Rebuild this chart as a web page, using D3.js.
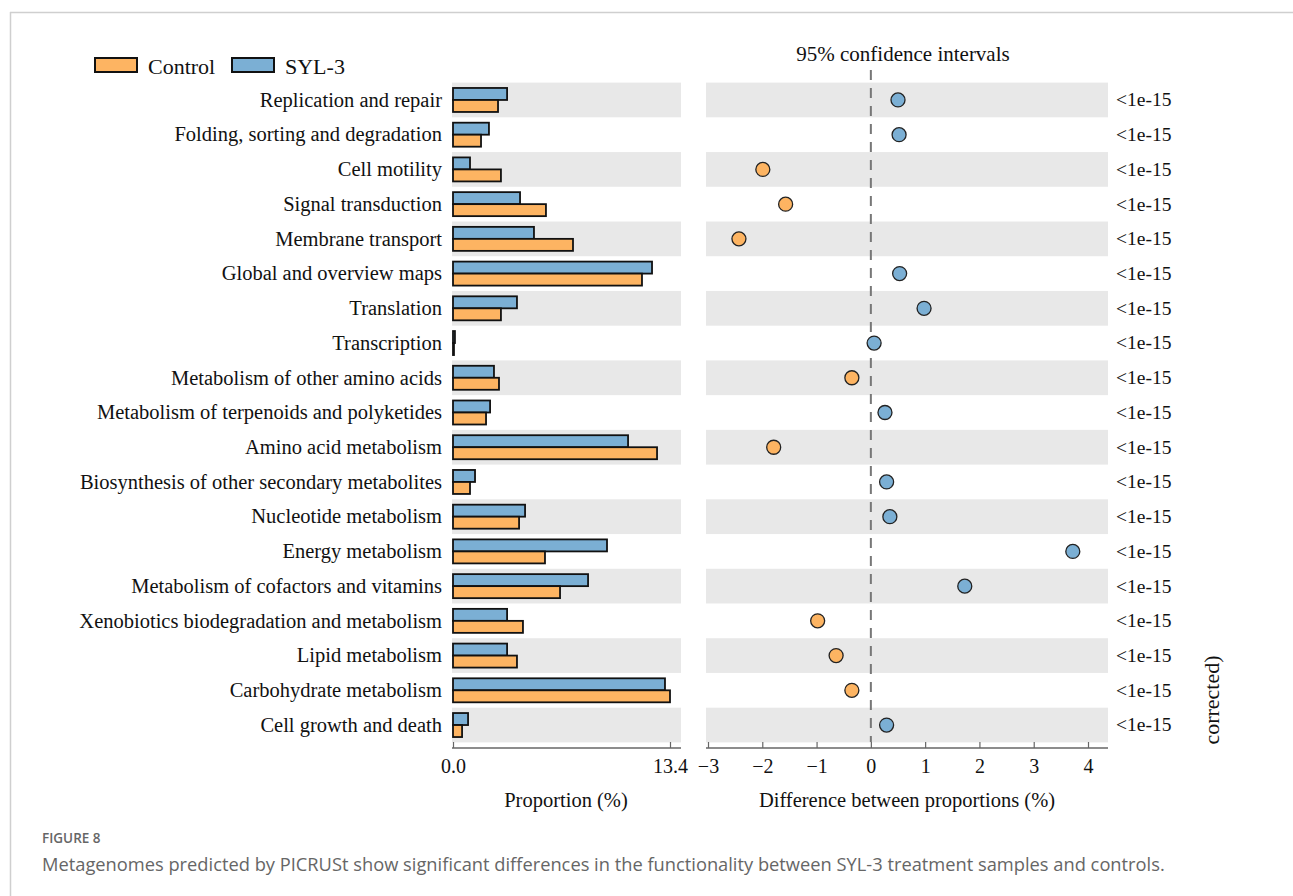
<!DOCTYPE html>
<html>
<head>
<meta charset="utf-8">
<script src="https://cdn.jsdelivr.net/npm/d3@7"></script>
<style>
  html, body { margin: 0; padding: 0; background: #fff; }
  svg { display: block; }
</style>
</head>
<body>
<svg id="chart" width="1293" height="896"></svg>
<script>
// KEGG level-2 pathways, top to bottom
const categories = [
  "Replication and repair",
  "Folding, sorting and degradation",
  "Cell motility",
  "Signal transduction",
  "Membrane transport",
  "Global and overview maps",
  "Translation",
  "Transcription",
  "Metabolism of other amino acids",
  "Metabolism of terpenoids and polyketides",
  "Amino acid metabolism",
  "Biosynthesis of other secondary metabolites",
  "Nucleotide metabolism",
  "Energy metabolism",
  "Metabolism of cofactors and vitamins",
  "Xenobiotics biodegradation and metabolism",
  "Lipid metabolism",
  "Carbohydrate metabolism",
  "Cell growth and death"
];

// mean proportions (%)
const syl3Values = [3.34, 2.22, 1.05, 4.14, 5.00, 12.29, 3.95, 0.12, 2.53, 2.29,
                    10.81, 1.36, 4.45, 9.51, 8.34, 3.34, 3.34, 13.09, 0.93];
const controlValues = [2.78, 1.73, 2.96, 5.74, 7.41, 11.67, 2.96, 0.06, 2.84, 2.04,
                       12.60, 1.05, 4.08, 5.68, 6.61, 4.32, 3.95, 13.40, 0.56];

// difference between proportions (SYL-3 minus Control, %)
const differences = [0.50, 0.52, -1.99, -1.57, -2.43, 0.53, 0.98, 0.06, -0.35, 0.26,
                     -1.79, 0.29, 0.35, 3.72, 1.73, -0.98, -0.64, -0.35, 0.29];

const pValues = categories.map(() => "<1e-15");

const proportionTicks = [0, 13.4];
const differenceTicks = [-3, -2, -1, 0, 1, 2, 3, 4];

const seriesNames = ["Control", "SYL-3"];
const colors = { "Control": "#FDB462", "SYL-3": "#7BAFD4" };

const svg = d3.select("#chart");
const serif = "'Liberation Serif', 'Times New Roman', serif";
const fs = 20.5;

// figure frame
svg.append("line").attr("x1", 10.5).attr("x2", 10.5).attr("y1", 12).attr("y2", 896)
  .attr("stroke", "#cfcfcf").attr("stroke-width", 1.5);
svg.append("line").attr("x1", 10).attr("x2", 1293).attr("y1", 12.5).attr("y2", 12.5)
  .attr("stroke", "#cfcfcf").attr("stroke-width", 1.5);

// shared row scale
const y = d3.scaleBand().domain(categories).range([82.6, 742.4]).padding(0);

// ---------- left panel: proportions ----------
const xProp = d3.scaleLinear().domain([0, 13.4]).range([453, 670]);
const leftPanel = svg.append("g");

leftPanel.selectAll("rect.band")
  .data(categories.filter((d, i) => i % 2 === 0))
  .join("rect")
  .attr("class", "band")
  .attr("x", 452).attr("width", 681 - 452)
  .attr("y", d => y(d)).attr("height", y.bandwidth())
  .attr("fill", "#e8e8e8");

const barH = 12;
const rows = categories.map((c, i) => ({ c, syl: syl3Values[i], ctl: controlValues[i], diff: differences[i], p: pValues[i] }));

leftPanel.selectAll("rect.syl")
  .data(rows).join("rect")
  .attr("class", "syl")
  .attr("x", xProp(0))
  .attr("y", d => y(d.c) + y.bandwidth() / 2 - barH)
  .attr("width", d => xProp(d.syl) - xProp(0))
  .attr("height", barH)
  .attr("fill", colors["SYL-3"]).attr("stroke", "#111").attr("stroke-width", 1.8);

leftPanel.selectAll("rect.ctl")
  .data(rows).join("rect")
  .attr("class", "ctl")
  .attr("x", xProp(0))
  .attr("y", d => y(d.c) + y.bandwidth() / 2)
  .attr("width", d => xProp(d.ctl) - xProp(0))
  .attr("height", barH)
  .attr("fill", colors["Control"]).attr("stroke", "#111").attr("stroke-width", 1.8);

// category labels
leftPanel.selectAll("text.cat")
  .data(categories).join("text")
  .attr("class", "cat")
  .attr("x", 442)
  .attr("y", d => y(d) + y.bandwidth() / 2)
  .attr("dy", "0.33em")
  .attr("text-anchor", "end")
  .attr("font-family", serif).attr("font-size", fs).attr("fill", "#111")
  .text(d => d);

// proportion axis
const propAxis = d3.axisBottom(xProp)
  .tickValues(proportionTicks)
  .tickFormat(d3.format(".1f"))
  .tickSizeInner(-6).tickSizeOuter(0).tickPadding(11);
const gPropAxis = svg.append("g").attr("transform", "translate(0,748)").call(propAxis);
gPropAxis.select(".domain").attr("d", "M452,0H681").attr("stroke", "#666").attr("stroke-width", 1.5);
gPropAxis.selectAll(".tick line").attr("stroke", "#666").attr("stroke-width", 1.2);
gPropAxis.selectAll(".tick text").attr("font-family", serif).attr("font-size", 20).attr("fill", "#111");

svg.append("text").attr("x", 566).attr("y", 807).attr("text-anchor", "middle")
  .attr("font-family", serif).attr("font-size", fs).attr("fill", "#111")
  .text("Proportion (%)");

// ---------- right panel: differences ----------
const xDiff = d3.scaleLinear().domain([-3, 4]).range([708, 1088]);
const rightPanel = svg.append("g");

rightPanel.selectAll("rect.band")
  .data(categories.filter((d, i) => i % 2 === 0))
  .join("rect")
  .attr("class", "band")
  .attr("x", 706).attr("width", 1108 - 706)
  .attr("y", d => y(d)).attr("height", y.bandwidth())
  .attr("fill", "#e8e8e8");

rightPanel.append("line")
  .attr("x1", xDiff(0)).attr("x2", xDiff(0))
  .attr("y1", 70).attr("y2", 742)
  .attr("stroke", "#777").attr("stroke-width", 2)
  .attr("stroke-dasharray", "10,8");

rightPanel.selectAll("circle")
  .data(rows).join("circle")
  .attr("cx", d => xDiff(d.diff))
  .attr("cy", d => y(d.c) + y.bandwidth() / 2)
  .attr("r", 7)
  .attr("fill", d => d.diff >= 0 ? colors["SYL-3"] : colors["Control"])
  .attr("stroke", "#222").attr("stroke-width", 1.3);

rightPanel.selectAll("text.pval")
  .data(rows).join("text")
  .attr("class", "pval")
  .attr("x", 1116)
  .attr("y", d => y(d.c) + y.bandwidth() / 2)
  .attr("dy", "0.33em")
  .attr("font-family", serif).attr("font-size", 19.5).attr("fill", "#111")
  .text(d => d.p);

svg.append("text")
  .attr("transform", "translate(1219,700) rotate(-90)")
  .attr("text-anchor", "middle")
  .attr("font-family", serif).attr("font-size", 22).attr("fill", "#111")
  .text("corrected)");

const diffAxis = d3.axisBottom(xDiff)
  .tickValues(differenceTicks)
  .tickFormat(d3.format("d"))
  .tickSizeInner(-6).tickSizeOuter(0).tickPadding(11);
const gDiffAxis = svg.append("g").attr("transform", "translate(0,748)").call(diffAxis);
gDiffAxis.select(".domain").attr("d", "M706,0H1108").attr("stroke", "#666").attr("stroke-width", 1.5);
gDiffAxis.selectAll(".tick line").attr("stroke", "#666").attr("stroke-width", 1.2);
gDiffAxis.selectAll(".tick text").attr("font-family", serif).attr("font-size", 20).attr("fill", "#111");

svg.append("text").attr("x", 907).attr("y", 807).attr("text-anchor", "middle")
  .attr("font-family", serif).attr("font-size", fs).attr("fill", "#111")
  .text("Difference between proportions (%)");

svg.append("text").attr("x", 903).attr("y", 61).attr("text-anchor", "middle")
  .attr("font-family", serif).attr("font-size", 21).attr("fill", "#111")
  .text("95% confidence intervals");

// ---------- legend ----------
const legendPos = { "Control": 95, "SYL-3": 232 };
const legend = svg.append("g");
legend.selectAll("rect")
  .data(seriesNames).join("rect")
  .attr("x", d => legendPos[d]).attr("y", 58)
  .attr("width", 42).attr("height", 14)
  .attr("fill", d => colors[d]).attr("stroke", "#111").attr("stroke-width", 2);
legend.selectAll("text")
  .data(seriesNames).join("text")
  .attr("x", d => legendPos[d] + 53).attr("y", 66)
  .attr("dy", "0.35em")
  .attr("font-family", serif).attr("font-size", 22).attr("fill", "#111")
  .text(d => d);

// ---------- caption ----------
svg.append("text").attr("x", 42).attr("y", 843)
  .attr("font-family", "'Open Sans', sans-serif").attr("font-size", 13.5)
  .attr("font-weight", 600).attr("fill", "#666")
  .text("FIGURE 8");
svg.append("text").attr("x", 42).attr("y", 871)
  .attr("font-family", "'Open Sans', sans-serif").attr("font-size", 18.3)
  .attr("fill", "#666")
  .text("Metagenomes predicted by PICRUSt show significant differences in the functionality between SYL-3 treatment samples and controls.");
</script>
</body>
</html>
